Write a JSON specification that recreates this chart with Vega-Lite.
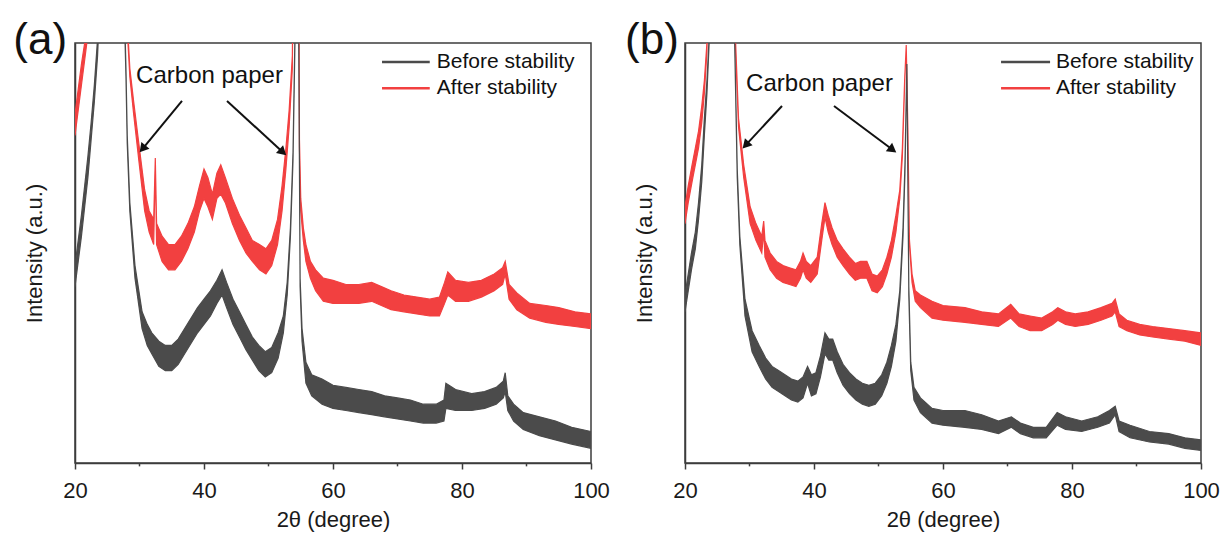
{
  "$schema": "https://vega.github.io/schema/vega-lite/v6.json",
  "padding": {"left": 12, "top": 18, "right": 5, "bottom": 5},
  "autosize": {"type": "pad"},
  "bounds": "flush",
  "spacing": 94,
  "config": {
    "font": "Liberation Sans",
    "view": {"stroke": "#3c3c3c", "strokeWidth": 1.5},
    "axis": {"grid": false, "domainColor": "#3c3c3c", "domainWidth": 1.5, "tickColor": "#3c3c3c", "tickWidth": 1.5, "labelColor": "#1a1a1a", "titleColor": "#1a1a1a", "labelFont": "Liberation Sans", "titleFont": "Liberation Sans", "labelFontSize": 22, "titleFontSize": 22, "titleFontWeight": "normal"},
    "axisX": {"tickSize": 6, "labelPadding": 11, "titlePadding": 8, "labelFlush": false},
    "axisY": {"ticks": false, "labels": false, "titlePadding": 29}
  },
  "datasets": {
    "a": [
      {"s":"Before","x":20,"lo":42,"hi":47},{"s":"Before","x":20.5,"lo":48,"hi":53},{"s":"Before","x":21,"lo":54,"hi":59},{"s":"Before","x":21.5,"lo":61,"hi":66},{"s":"Before","x":22,"lo":68,"hi":73},{"s":"Before","x":22.5,"lo":77,"hi":81},{"s":"Before","x":23,"lo":86,"hi":90},{"s":"Before","x":23.5,"lo":97,"hi":101},{"s":"Before","x":24,"lo":115,"hi":120},{"s":"Before","x":24.7,"lo":200,"hi":205},{"s":"Before","x":25.5,"lo":420,"hi":420},{"s":"Before","x":26.5,"lo":250,"hi":255},{"s":"Before","x":27.2,"lo":150,"hi":155},{"s":"Before","x":27.6,"lo":110,"hi":112},{"s":"Before","x":27.9,"lo":92,"hi":94},{"s":"Before","x":28.1,"lo":76,"hi":78},{"s":"Before","x":28.5,"lo":60,"hi":62},{"s":"Before","x":29.3,"lo":44,"hi":47},{"s":"Before","x":30.4,"lo":32,"hi":36},{"s":"Before","x":31.2,"lo":28,"hi":33},{"s":"Before","x":31.9,"lo":26,"hi":31},{"s":"Before","x":33,"lo":23,"hi":29},{"s":"Before","x":34,"lo":22,"hi":28},{"s":"Before","x":35,"lo":22,"hi":28},{"s":"Before","x":36,"lo":23.5,"hi":29.5},{"s":"Before","x":37,"lo":26,"hi":32},{"s":"Before","x":38,"lo":28.5,"hi":34.5},{"s":"Before","x":39,"lo":31,"hi":37},{"s":"Before","x":40,"lo":33,"hi":39},{"s":"Before","x":41,"lo":35,"hi":41},{"s":"Before","x":42,"lo":38,"hi":43.5},{"s":"Before","x":42.8,"lo":40,"hi":46},{"s":"Before","x":43.5,"lo":37,"hi":43},{"s":"Before","x":44.5,"lo":33,"hi":39},{"s":"Before","x":45.5,"lo":30,"hi":36},{"s":"Before","x":46.5,"lo":27,"hi":33},{"s":"Before","x":47.5,"lo":24.5,"hi":30},{"s":"Before","x":48.5,"lo":22,"hi":28},{"s":"Before","x":49.5,"lo":20.5,"hi":26.5},{"s":"Before","x":50.5,"lo":21.5,"hi":27.5},{"s":"Before","x":51.5,"lo":25,"hi":31},{"s":"Before","x":52.3,"lo":31,"hi":35},{"s":"Before","x":52.9,"lo":40,"hi":43},{"s":"Before","x":53.4,"lo":54,"hi":56},{"s":"Before","x":53.8,"lo":72,"hi":74},{"s":"Before","x":54.1,"lo":100,"hi":102},{"s":"Before","x":54.4,"lo":220,"hi":220},{"s":"Before","x":54.65,"lo":110,"hi":110},{"s":"Before","x":54.9,"lo":42,"hi":44},{"s":"Before","x":55.2,"lo":29,"hi":32},{"s":"Before","x":55.8,"lo":19,"hi":24},{"s":"Before","x":56.7,"lo":16,"hi":21},{"s":"Before","x":58.3,"lo":14,"hi":20},{"s":"Before","x":60,"lo":13,"hi":18.5},{"s":"Before","x":62,"lo":12.5,"hi":18},{"s":"Before","x":64,"lo":12,"hi":17.5},{"s":"Before","x":66,"lo":11.5,"hi":17},{"s":"Before","x":68,"lo":11,"hi":16},{"s":"Before","x":70,"lo":10.5,"hi":15.5},{"s":"Before","x":72,"lo":10,"hi":15},{"s":"Before","x":74,"lo":9.5,"hi":14},{"s":"Before","x":76,"lo":9.5,"hi":14},{"s":"Before","x":77.2,"lo":10,"hi":15},{"s":"Before","x":77.5,"lo":13,"hi":19},{"s":"Before","x":79,"lo":12.5,"hi":17.5},{"s":"Before","x":81.5,"lo":12.5,"hi":16.5},{"s":"Before","x":83.5,"lo":13,"hi":17},{"s":"Before","x":85.3,"lo":14,"hi":18},{"s":"Before","x":86.4,"lo":15.5,"hi":19.5},{"s":"Before","x":86.7,"lo":17,"hi":21.5},{"s":"Before","x":87.1,"lo":12.5,"hi":16},{"s":"Before","x":88,"lo":10,"hi":14},{"s":"Before","x":89.5,"lo":8,"hi":12},{"s":"Before","x":92,"lo":6.5,"hi":11},{"s":"Before","x":94.5,"lo":5.5,"hi":10},{"s":"Before","x":97,"lo":4.5,"hi":8.5},{"s":"Before","x":100,"lo":3.5,"hi":7.5},
      {"s":"After","x":20,"lo":78,"hi":83},{"s":"After","x":20.5,"lo":84,"hi":89},{"s":"After","x":21,"lo":90,"hi":95},{"s":"After","x":21.5,"lo":96,"hi":100},{"s":"After","x":22,"lo":102,"hi":104},{"s":"After","x":23,"lo":140,"hi":140},{"s":"After","x":24.5,"lo":300,"hi":300},{"s":"After","x":26,"lo":300,"hi":300},{"s":"After","x":27.3,"lo":150,"hi":150},{"s":"After","x":28,"lo":106,"hi":108},{"s":"After","x":28.5,"lo":92,"hi":94},{"s":"After","x":29.1,"lo":83,"hi":86},{"s":"After","x":29.9,"lo":72,"hi":76},{"s":"After","x":30.8,"lo":60,"hi":65},{"s":"After","x":31.5,"lo":55,"hi":60},{"s":"After","x":32.2,"lo":52,"hi":58},{"s":"After","x":32.45,"lo":71,"hi":72.6},{"s":"After","x":32.65,"lo":52,"hi":57},{"s":"After","x":33.5,"lo":48,"hi":54},{"s":"After","x":34.5,"lo":46,"hi":52},{"s":"After","x":35.5,"lo":46,"hi":52},{"s":"After","x":36.5,"lo":48,"hi":54},{"s":"After","x":37.5,"lo":51,"hi":57},{"s":"After","x":38.5,"lo":55,"hi":61},{"s":"After","x":39.3,"lo":60,"hi":66},{"s":"After","x":40,"lo":63,"hi":70},{"s":"After","x":40.6,"lo":61,"hi":68},{"s":"After","x":41.3,"lo":58,"hi":64},{"s":"After","x":42,"lo":63,"hi":69},{"s":"After","x":42.6,"lo":64,"hi":71},{"s":"After","x":43.3,"lo":62,"hi":68},{"s":"After","x":44.4,"lo":57,"hi":63},{"s":"After","x":45.5,"lo":53,"hi":59},{"s":"After","x":46.5,"lo":50,"hi":56},{"s":"After","x":47.5,"lo":48,"hi":53},{"s":"After","x":48.6,"lo":46,"hi":52},{"s":"After","x":49.6,"lo":45,"hi":51},{"s":"After","x":50.5,"lo":47,"hi":53},{"s":"After","x":51.4,"lo":52,"hi":58},{"s":"After","x":52.1,"lo":60,"hi":66},{"s":"After","x":52.7,"lo":70,"hi":75},{"s":"After","x":53.2,"lo":80,"hi":84},{"s":"After","x":53.7,"lo":94,"hi":97},{"s":"After","x":54.15,"lo":200,"hi":200},{"s":"After","x":54.55,"lo":200,"hi":200},{"s":"After","x":54.8,"lo":75,"hi":77},{"s":"After","x":55,"lo":60,"hi":63},{"s":"After","x":55.4,"lo":53,"hi":56},{"s":"After","x":55.8,"lo":48,"hi":52},{"s":"After","x":56.5,"lo":44,"hi":48},{"s":"After","x":57.3,"lo":41,"hi":46},{"s":"After","x":58.5,"lo":38.5,"hi":44},{"s":"After","x":60,"lo":38,"hi":43.5},{"s":"After","x":62,"lo":38,"hi":42.5},{"s":"After","x":64,"lo":38,"hi":42.5},{"s":"After","x":66,"lo":38.5,"hi":43},{"s":"After","x":67.5,"lo":37.5,"hi":42},{"s":"After","x":69,"lo":36.5,"hi":41},{"s":"After","x":71,"lo":36,"hi":40},{"s":"After","x":73,"lo":35.5,"hi":39.5},{"s":"After","x":75,"lo":35,"hi":39},{"s":"After","x":76.5,"lo":35,"hi":39.5},{"s":"After","x":77.3,"lo":38,"hi":43},{"s":"After","x":77.8,"lo":40,"hi":45.5},{"s":"After","x":79,"lo":38.5,"hi":43.5},{"s":"After","x":81,"lo":38.5,"hi":43},{"s":"After","x":83,"lo":39.5,"hi":43.5},{"s":"After","x":85,"lo":41,"hi":45},{"s":"After","x":86.3,"lo":42.5,"hi":46.5},{"s":"After","x":86.7,"lo":45,"hi":48},{"s":"After","x":87.3,"lo":39,"hi":42.5},{"s":"After","x":88.5,"lo":36.5,"hi":40.5},{"s":"After","x":90.5,"lo":34.5,"hi":38},{"s":"After","x":93,"lo":33.5,"hi":37.5},{"s":"After","x":95,"lo":33,"hi":37},{"s":"After","x":97.5,"lo":32.5,"hi":36},{"s":"After","x":100,"lo":32,"hi":35.5}
    ],
    "b": [
      {"s":"Before","x":20,"lo":36,"hi":40},{"s":"Before","x":20.5,"lo":41,"hi":45},{"s":"Before","x":21,"lo":46,"hi":50},{"s":"Before","x":21.6,"lo":51,"hi":55},{"s":"Before","x":22.1,"lo":58,"hi":62},{"s":"Before","x":22.6,"lo":67,"hi":71},{"s":"Before","x":23,"lo":78,"hi":82},{"s":"Before","x":23.4,"lo":88,"hi":91},{"s":"Before","x":23.8,"lo":102,"hi":103},{"s":"Before","x":24.5,"lo":160,"hi":160},{"s":"Before","x":25.5,"lo":400,"hi":400},{"s":"Before","x":26.5,"lo":250,"hi":250},{"s":"Before","x":27.3,"lo":140,"hi":140},{"s":"Before","x":27.7,"lo":100,"hi":101},{"s":"Before","x":28.1,"lo":68,"hi":70},{"s":"Before","x":28.5,"lo":52,"hi":54},{"s":"Before","x":29.3,"lo":35,"hi":39},{"s":"Before","x":30.4,"lo":26.5,"hi":31.5},{"s":"Before","x":31.5,"lo":23,"hi":28},{"s":"Before","x":32.5,"lo":20,"hi":25},{"s":"Before","x":33.5,"lo":18,"hi":23},{"s":"Before","x":34.5,"lo":17,"hi":22},{"s":"Before","x":35.5,"lo":16,"hi":21},{"s":"Before","x":36.5,"lo":15,"hi":20},{"s":"Before","x":37.5,"lo":14.5,"hi":19.5},{"s":"Before","x":38.3,"lo":15.5,"hi":20.5},{"s":"Before","x":39,"lo":19,"hi":23},{"s":"Before","x":39.6,"lo":16,"hi":21},{"s":"Before","x":40.3,"lo":16.5,"hi":21.5},{"s":"Before","x":41,"lo":20.5,"hi":25.5},{"s":"Before","x":41.7,"lo":26,"hi":31},{"s":"Before","x":42.3,"lo":24.5,"hi":29.5},{"s":"Before","x":42.9,"lo":24.5,"hi":29.5},{"s":"Before","x":43.6,"lo":21.5,"hi":26.5},{"s":"Before","x":44.5,"lo":18.5,"hi":23.5},{"s":"Before","x":45.5,"lo":16.5,"hi":21.5},{"s":"Before","x":46.5,"lo":15,"hi":20},{"s":"Before","x":47.5,"lo":14,"hi":19},{"s":"Before","x":48.5,"lo":13.5,"hi":18.5},{"s":"Before","x":49.5,"lo":14,"hi":19},{"s":"Before","x":50.5,"lo":16,"hi":21},{"s":"Before","x":51.3,"lo":19,"hi":24},{"s":"Before","x":52,"lo":23,"hi":28},{"s":"Before","x":52.7,"lo":29,"hi":33},{"s":"Before","x":53.3,"lo":39,"hi":41},{"s":"Before","x":53.8,"lo":54,"hi":56},{"s":"Before","x":54.1,"lo":69,"hi":71},{"s":"Before","x":54.4,"lo":95,"hi":95},{"s":"Before","x":54.7,"lo":40,"hi":42},{"s":"Before","x":55,"lo":22,"hi":24},{"s":"Before","x":55.5,"lo":15,"hi":18},{"s":"Before","x":56.5,"lo":12,"hi":15.5},{"s":"Before","x":58.3,"lo":9.5,"hi":13},{"s":"Before","x":60,"lo":9,"hi":12.5},{"s":"Before","x":63.4,"lo":8.5,"hi":12.5},{"s":"Before","x":66,"lo":8,"hi":11.5},{"s":"Before","x":68.6,"lo":7,"hi":10},{"s":"Before","x":70.6,"lo":8.5,"hi":11},{"s":"Before","x":72,"lo":7,"hi":9.5},{"s":"Before","x":74,"lo":6,"hi":8.5},{"s":"Before","x":76,"lo":6,"hi":8.5},{"s":"Before","x":77.7,"lo":9,"hi":12},{"s":"Before","x":79,"lo":8,"hi":11},{"s":"Before","x":81.5,"lo":7.5,"hi":10},{"s":"Before","x":84,"lo":8.5,"hi":11},{"s":"Before","x":85.8,"lo":9.5,"hi":12.5},{"s":"Before","x":86.7,"lo":11.5,"hi":13.5},{"s":"Before","x":87.3,"lo":7.5,"hi":10},{"s":"Before","x":89,"lo":6,"hi":9},{"s":"Before","x":92,"lo":5,"hi":7.5},{"s":"Before","x":95,"lo":4.5,"hi":7},{"s":"Before","x":97.5,"lo":3.5,"hi":6},{"s":"Before","x":100,"lo":3,"hi":5.5},
      {"s":"After","x":20,"lo":57,"hi":61},{"s":"After","x":20.5,"lo":62,"hi":66},{"s":"After","x":21.1,"lo":67,"hi":71},{"s":"After","x":21.6,"lo":71,"hi":75},{"s":"After","x":22.1,"lo":75,"hi":79},{"s":"After","x":22.6,"lo":81,"hi":85},{"s":"After","x":23,"lo":88,"hi":91},{"s":"After","x":23.4,"lo":98,"hi":100},{"s":"After","x":24,"lo":140,"hi":140},{"s":"After","x":25,"lo":300,"hi":300},{"s":"After","x":26.5,"lo":260,"hi":260},{"s":"After","x":27.4,"lo":140,"hi":140},{"s":"After","x":27.8,"lo":100,"hi":102},{"s":"After","x":28.3,"lo":80,"hi":82},{"s":"After","x":29.1,"lo":68,"hi":71},{"s":"After","x":30.1,"lo":57,"hi":61},{"s":"After","x":31,"lo":53,"hi":57},{"s":"After","x":31.9,"lo":50,"hi":54},{"s":"After","x":32.2,"lo":55,"hi":57.6},{"s":"After","x":32.4,"lo":49,"hi":53},{"s":"After","x":33.2,"lo":46,"hi":50},{"s":"After","x":34.2,"lo":44,"hi":48},{"s":"After","x":35.2,"lo":43,"hi":47},{"s":"After","x":36.2,"lo":42.5,"hi":46.5},{"s":"After","x":37.2,"lo":42,"hi":46},{"s":"After","x":37.9,"lo":44,"hi":48},{"s":"After","x":38.3,"lo":46,"hi":50},{"s":"After","x":38.8,"lo":44,"hi":48},{"s":"After","x":39.5,"lo":43,"hi":47},{"s":"After","x":40.5,"lo":45,"hi":49},{"s":"After","x":41.2,"lo":53,"hi":57},{"s":"After","x":41.7,"lo":58.5,"hi":62},{"s":"After","x":42.2,"lo":55,"hi":59},{"s":"After","x":42.8,"lo":52,"hi":56},{"s":"After","x":43.6,"lo":49,"hi":53},{"s":"After","x":44.5,"lo":47,"hi":51},{"s":"After","x":45.5,"lo":45,"hi":49},{"s":"After","x":46.4,"lo":43.5,"hi":47.5},{"s":"After","x":47.2,"lo":44,"hi":48},{"s":"After","x":48.2,"lo":44,"hi":48},{"s":"After","x":49,"lo":41,"hi":45},{"s":"After","x":49.8,"lo":40.5,"hi":44.5},{"s":"After","x":50.6,"lo":42,"hi":46},{"s":"After","x":51.3,"lo":45,"hi":49},{"s":"After","x":52,"lo":49,"hi":53},{"s":"After","x":52.7,"lo":55,"hi":59},{"s":"After","x":53.3,"lo":63,"hi":65},{"s":"After","x":53.7,"lo":73,"hi":75},{"s":"After","x":54.05,"lo":90,"hi":91},{"s":"After","x":54.3,"lo":99.5,"hi":99.5},{"s":"After","x":54.55,"lo":80,"hi":80},{"s":"After","x":54.8,"lo":52,"hi":53},{"s":"After","x":55.2,"lo":43,"hi":45},{"s":"After","x":55.7,"lo":38.5,"hi":41},{"s":"After","x":56.5,"lo":37,"hi":40},{"s":"After","x":58.3,"lo":34.5,"hi":38.5},{"s":"After","x":60,"lo":34,"hi":37.5},{"s":"After","x":63.4,"lo":33.5,"hi":37},{"s":"After","x":66,"lo":33,"hi":36},{"s":"After","x":68.6,"lo":32.5,"hi":35.5},{"s":"After","x":70.5,"lo":34.5,"hi":37.8},{"s":"After","x":71.8,"lo":32.5,"hi":35.5},{"s":"After","x":73.5,"lo":31.5,"hi":35},{"s":"After","x":75.3,"lo":31.5,"hi":34.5},{"s":"After","x":77,"lo":33,"hi":36},{"s":"After","x":77.8,"lo":34,"hi":37},{"s":"After","x":79,"lo":33,"hi":36},{"s":"After","x":80.5,"lo":32.5,"hi":35.5},{"s":"After","x":82.5,"lo":33,"hi":36},{"s":"After","x":84.5,"lo":34,"hi":37},{"s":"After","x":86.2,"lo":35,"hi":38},{"s":"After","x":86.7,"lo":36,"hi":39},{"s":"After","x":87.3,"lo":32.5,"hi":35.5},{"s":"After","x":88.5,"lo":31.5,"hi":34},{"s":"After","x":90.5,"lo":30.5,"hi":33},{"s":"After","x":92.5,"lo":30,"hi":32.5},{"s":"After","x":95,"lo":29.5,"hi":32},{"s":"After","x":97.5,"lo":29,"hi":31.5},{"s":"After","x":100,"lo":28,"hi":31}
    ],
    "minor": [{"t": 30}, {"t": 50}, {"t": 70}, {"t": 90}]
  },
  "hconcat": [
    {
      "width": 516,
      "height": 420,
      "layer": [
        {
          "data": {"name": "a"},
          "transform": [{"filter": "datum.s == 'After'"}],
          "mark": {"type": "area", "clip": true, "color": "#f24040", "stroke": "#f24040", "strokeWidth": 1.2, "opacity": 1},
          "encoding": {
            "x": {"field": "x", "type": "quantitative", "title": "2θ (degree)", "scale": {"domain": [20, 100], "nice": false, "zero": false}, "axis": {"values": [20, 40, 60, 80, 100]}},
            "y": {"field": "hi", "type": "quantitative", "title": "Intensity (a.u.)", "scale": {"domain": [0, 100], "nice": false, "zero": false}},
            "y2": {"field": "lo"}
          }
        },
        {
          "data": {"name": "a"},
          "transform": [{"filter": "datum.s == 'Before'"}],
          "mark": {"type": "area", "clip": true, "color": "#4b4b4b", "stroke": "#4b4b4b", "strokeWidth": 1.2, "opacity": 1},
          "encoding": {
            "x": {"field": "x", "type": "quantitative", "title": "2θ (degree)", "axis": {"values": [20, 40, 60, 80, 100]}},
            "y": {"field": "hi", "type": "quantitative", "title": "Intensity (a.u.)"},
            "y2": {"field": "lo"}
          }
        },
        {
          "data": {"name": "minor"},
          "mark": {"type": "rule", "color": "#3c3c3c", "strokeWidth": 1.5},
          "encoding": {
            "x": {"field": "t", "type": "quantitative", "title": "2θ (degree)", "axis": {"values": [20, 40, 60, 80, 100]}},
            "y": {"datum": 0, "type": "quantitative"},
            "y2": {"datum": -0.8}
          }
        },
        {
          "data": {"values": [{}]},
          "mark": {"type": "text", "fontSize": 24, "color": "#111111", "align": "center", "baseline": "middle"},
          "encoding": {"x": {"datum": 40.85, "type": "quantitative"}, "y": {"datum": 92.1, "type": "quantitative"}, "text": {"value": "Carbon paper"}}
        },
        {
          "data": {"values": [{}]},
          "mark": {"type": "rule", "color": "#111111", "strokeWidth": 2},
          "encoding": {"x": {"datum": 36.59, "type": "quantitative"}, "y": {"datum": 86.2, "type": "quantitative"}, "x2": {"datum": 30.47}, "y2": {"datum": 74.8}}
        },
        {
          "data": {"values": [{}]},
          "mark": {"type": "point", "shape": "triangle-up", "filled": true, "size": 110, "angle": 219.6, "color": "#111111", "opacity": 1},
          "encoding": {"x": {"datum": 30.47, "type": "quantitative"}, "y": {"datum": 74.8, "type": "quantitative"}}
        },
        {
          "data": {"values": [{}]},
          "mark": {"type": "rule", "color": "#111111", "strokeWidth": 2},
          "encoding": {"x": {"datum": 43.57, "type": "quantitative"}, "y": {"datum": 86.2, "type": "quantitative"}, "x2": {"datum": 52.23}, "y2": {"datum": 74.0}}
        },
        {
          "data": {"values": [{}]},
          "mark": {"type": "point", "shape": "triangle-up", "filled": true, "size": 110, "angle": 132.5, "color": "#111111", "opacity": 1},
          "encoding": {"x": {"datum": 52.23, "type": "quantitative"}, "y": {"datum": 74.0, "type": "quantitative"}}
        },
        {
          "data": {"values": [{}]},
          "mark": {"type": "rule", "color": "#4b4b4b", "strokeWidth": 2.5},
          "encoding": {"x": {"datum": 67.6, "type": "quantitative"}, "x2": {"datum": 75.0}, "y": {"datum": 95.5, "type": "quantitative"}}
        },
        {
          "data": {"values": [{}]},
          "mark": {"type": "rule", "color": "#f24040", "strokeWidth": 2.5},
          "encoding": {"x": {"datum": 67.6, "type": "quantitative"}, "x2": {"datum": 75.0}, "y": {"datum": 89.2, "type": "quantitative"}}
        },
        {
          "data": {"values": [{}]},
          "mark": {"type": "text", "fontSize": 21, "color": "#111111", "align": "left", "baseline": "middle"},
          "encoding": {"x": {"datum": 76.1, "type": "quantitative"}, "y": {"datum": 95.5, "type": "quantitative"}, "text": {"value": "Before stability"}}
        },
        {
          "data": {"values": [{}]},
          "mark": {"type": "text", "fontSize": 21, "color": "#111111", "align": "left", "baseline": "middle"},
          "encoding": {"x": {"datum": 76.1, "type": "quantitative"}, "y": {"datum": 89.2, "type": "quantitative"}, "text": {"value": "After stability"}}
        },
        {
          "data": {"values": [{}]},
          "mark": {"type": "text", "fontSize": 44, "color": "#111111", "align": "center", "baseline": "middle"},
          "encoding": {"x": {"datum": 14.6, "type": "quantitative"}, "y": {"datum": 100.5, "type": "quantitative"}, "text": {"value": "(a)"}}
        }
      ]
    },
    {
      "width": 516,
      "height": 420,
      "layer": [
        {
          "data": {"name": "b"},
          "transform": [{"filter": "datum.s == 'After'"}],
          "mark": {"type": "area", "clip": true, "color": "#f24040", "stroke": "#f24040", "strokeWidth": 1.2, "opacity": 1},
          "encoding": {
            "x": {"field": "x", "type": "quantitative", "title": "2θ (degree)", "scale": {"domain": [20, 100], "nice": false, "zero": false}, "axis": {"values": [20, 40, 60, 80, 100]}},
            "y": {"field": "hi", "type": "quantitative", "title": "Intensity (a.u.)", "scale": {"domain": [0, 100], "nice": false, "zero": false}},
            "y2": {"field": "lo"}
          }
        },
        {
          "data": {"name": "b"},
          "transform": [{"filter": "datum.s == 'Before'"}],
          "mark": {"type": "area", "clip": true, "color": "#4b4b4b", "stroke": "#4b4b4b", "strokeWidth": 1.2, "opacity": 1},
          "encoding": {
            "x": {"field": "x", "type": "quantitative", "title": "2θ (degree)", "axis": {"values": [20, 40, 60, 80, 100]}},
            "y": {"field": "hi", "type": "quantitative", "title": "Intensity (a.u.)"},
            "y2": {"field": "lo"}
          }
        },
        {
          "data": {"name": "minor"},
          "mark": {"type": "rule", "color": "#3c3c3c", "strokeWidth": 1.5},
          "encoding": {
            "x": {"field": "t", "type": "quantitative", "title": "2θ (degree)", "axis": {"values": [20, 40, 60, 80, 100]}},
            "y": {"datum": 0, "type": "quantitative"},
            "y2": {"datum": -0.8}
          }
        },
        {
          "data": {"values": [{}]},
          "mark": {"type": "text", "fontSize": 24, "color": "#111111", "align": "center", "baseline": "middle"},
          "encoding": {"x": {"datum": 40.85, "type": "quantitative"}, "y": {"datum": 90.2, "type": "quantitative"}, "text": {"value": "Carbon paper"}}
        },
        {
          "data": {"values": [{}]},
          "mark": {"type": "rule", "color": "#111111", "strokeWidth": 2},
          "encoding": {"x": {"datum": 35.04, "type": "quantitative"}, "y": {"datum": 85.0, "type": "quantitative"}, "x2": {"datum": 29.41}, "y2": {"datum": 75.7}}
        },
        {
          "data": {"values": [{}]},
          "mark": {"type": "point", "shape": "triangle-up", "filled": true, "size": 110, "angle": 222.9, "color": "#111111", "opacity": 1},
          "encoding": {"x": {"datum": 29.41, "type": "quantitative"}, "y": {"datum": 75.7, "type": "quantitative"}}
        },
        {
          "data": {"values": [{}]},
          "mark": {"type": "rule", "color": "#111111", "strokeWidth": 2},
          "encoding": {"x": {"datum": 43.10, "type": "quantitative"}, "y": {"datum": 85.0, "type": "quantitative"}, "x2": {"datum": 52.19}, "y2": {"datum": 74.6}}
        },
        {
          "data": {"values": [{}]},
          "mark": {"type": "point", "shape": "triangle-up", "filled": true, "size": 110, "angle": 126.7, "color": "#111111", "opacity": 1},
          "encoding": {"x": {"datum": 52.19, "type": "quantitative"}, "y": {"datum": 74.6, "type": "quantitative"}}
        },
        {
          "data": {"values": [{}]},
          "mark": {"type": "rule", "color": "#4b4b4b", "strokeWidth": 2.5},
          "encoding": {"x": {"datum": 69.0, "type": "quantitative"}, "x2": {"datum": 76.6}, "y": {"datum": 95.5, "type": "quantitative"}}
        },
        {
          "data": {"values": [{}]},
          "mark": {"type": "rule", "color": "#f24040", "strokeWidth": 2.5},
          "encoding": {"x": {"datum": 69.0, "type": "quantitative"}, "x2": {"datum": 76.6}, "y": {"datum": 89.2, "type": "quantitative"}}
        },
        {
          "data": {"values": [{}]},
          "mark": {"type": "text", "fontSize": 21, "color": "#111111", "align": "left", "baseline": "middle"},
          "encoding": {"x": {"datum": 77.5, "type": "quantitative"}, "y": {"datum": 95.5, "type": "quantitative"}, "text": {"value": "Before stability"}}
        },
        {
          "data": {"values": [{}]},
          "mark": {"type": "text", "fontSize": 21, "color": "#111111", "align": "left", "baseline": "middle"},
          "encoding": {"x": {"datum": 77.5, "type": "quantitative"}, "y": {"datum": 89.2, "type": "quantitative"}, "text": {"value": "After stability"}}
        },
        {
          "data": {"values": [{}]},
          "mark": {"type": "text", "fontSize": 44, "color": "#111111", "align": "center", "baseline": "middle"},
          "encoding": {"x": {"datum": 14.88, "type": "quantitative"}, "y": {"datum": 100.5, "type": "quantitative"}, "text": {"value": "(b)"}}
        }
      ]
    }
  ]
}
